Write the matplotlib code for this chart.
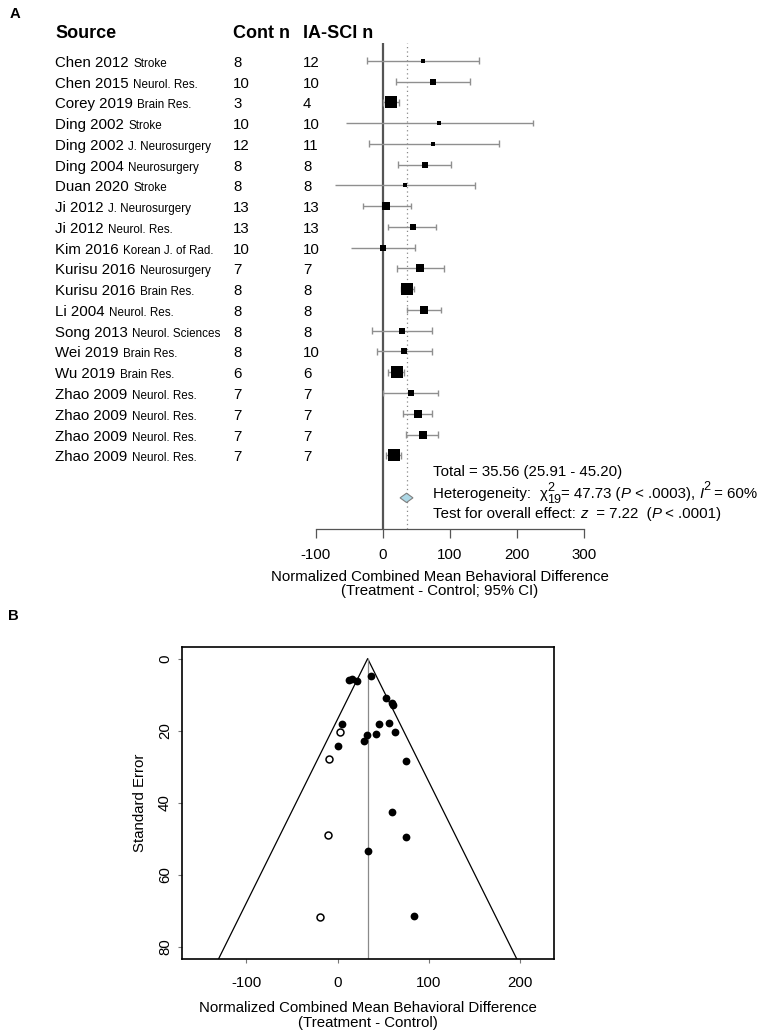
import numpy as np
import matplotlib.pyplot as plt
import matplotlib.transforms as mtransforms
from matplotlib.patches import Polygon

plt.rcParams['font.family'] = ['Liberation Sans', 'DejaVu Sans']
plt.rcParams['axes.unicode_minus'] = False

## Data
studies = ["Chen 2012", "Chen 2015", "Corey 2019", "Ding 2002", "Ding 2002",
           "Ding 2004", "Duan 2020", "Ji 2012", "Ji 2012", "Kim 2016",
           "Kurisu 2016", "Kurisu 2016", "Li 2004", "Song 2013", "Wei 2019",
           "Wu 2019", "Zhao 2009", "Zhao 2009", "Zhao 2009", "Zhao 2009"]
journals = ["Stroke", "Neurol. Res.", "Brain Res.", "Stroke", "J. Neurosurgery",
            "Neurosurgery", "Stroke", "J. Neurosurgery", "Neurol. Res.", "Korean J. of Rad.",
            "Neurosurgery", "Brain Res.", "Neurol. Res.", "Neurol. Sciences", "Brain Res.",
            "Brain Res.", "Neurol. Res.", "Neurol. Res.", "Neurol. Res.", "Neurol. Res."]
cont_n = [8, 10, 3, 10, 12, 8, 8, 13, 13, 10, 7, 8, 8, 8, 8, 6, 7, 7, 7, 7]
iasci_n = [12, 10, 4, 10, 11, 8, 8, 13, 13, 10, 7, 8, 8, 8, 10, 6, 7, 7, 7, 7]

est = [60.1, 74.6, 12.4, 84.0, 75.0, 62.7, 33.8, 4.9, 45.2, 0.0,
       56.2, 36.3, 61.2, 29.4, 32.3, 20.9, 41.8, 52.7, 59.7, 16.4]
ci_lo = [-23.0, 19.4, 1.0, -54.8, -21.0, 22.4, -71.2, -29.4, 7.9, -47.3,
         20.9, 26.9, 36.8, -16.0, -9.0, 8.4, 1.0, 30.8, 34.3, 4.9]
ci_hi = [144.2, 130.3, 24.3, 225.0, 173.0, 102.0, 137.8, 41.8, 79.5, 48.2,
         91.0, 46.3, 87.0, 74.0, 74.0, 32.3, 82.5, 74.0, 83.0, 27.3]

total_est, total_lo, total_hi = 35.56, 25.91, 45.20

# trim-and-fill (funnel plot)
funnel_center = 33.0
imp_est = [-19.0, -10.2, -9.5, 2.9]
imp_se = [71.8, 49.0, 27.9, 20.4]

est = np.array(est)
ci_lo = np.array(ci_lo)
ci_hi = np.array(ci_hi)
se = (ci_hi - ci_lo) / 3.92

## Figure
W, H = 765, 1032
fig = plt.figure(figsize=(W / 100, H / 100), dpi=100)
renderer = fig.canvas.get_renderer()


def box(x0, y0, x1, y1):
    return [x0 / W, 1 - y1 / H, (x1 - x0) / W, (y1 - y0) / H]


def pieces(ax, x0, y0, parts):
    # parts: (text, fontsize, style, dy_px, advance)
    dx = 0.0
    for s, size, style, dy, adv in parts:
        tr = mtransforms.offset_copy(ax.transData, fig=fig, x=dx, y=dy, units='dots')
        t = ax.text(x0, y0, s, transform=tr, fontsize=size, fontstyle=style, va='baseline')
        if adv:
            dx += t.get_window_extent(renderer).width


FS = 10.8
SS = 9.0
grey_ci = '#8f8f8f'

# ---------------- A: forest plot ----------------
ax = fig.add_axes(box(315.7, 43.3, 583.7, 529))
ax.set_xlim(-100, 300)
ax.set_ylim(-2.55, 20.84)
for s in ['top', 'right', 'left']:
    ax.spines[s].set_visible(False)
ax.spines['bottom'].set_color('#555555')
ax.spines['bottom'].set_linewidth(0.9)
ax.set_yticks([])
ax.set_xticks([-100, 0, 100, 200, 300])
ax.tick_params(axis='x', length=6.5, width=0.9, color='#555555', pad=7, labelsize=FS)

rows = np.arange(len(studies), 0, -1)

ax.axvline(0, color='#555555', lw=1.6, zorder=1)
ax.axvline(total_est, color='#8a8a8a', lw=0.9, ls=(0, (1, 2.5)), zorder=1)

cap = 0.16
ax.hlines(rows, ci_lo, ci_hi, color=grey_ci, lw=1.0, zorder=2)
ax.vlines(ci_hi, rows - cap, rows + cap, color=grey_ci, lw=1.0, zorder=2)
left_cap = ci_lo > -40
ax.vlines(ci_lo[left_cap], rows[left_cap] - cap, rows[left_cap] + cap, color=grey_ci, lw=1.0, zorder=2)

side_px = 0.9 + 26.0 / np.sqrt(se)
for x, y, s_ in zip(est, rows, side_px):
    ax.plot(x, y, marker='s', ms=s_ * 0.72, color='black', mew=0, zorder=3)

yd = -1.05
hd = 0.225
ax.add_patch(Polygon([[total_lo, yd], [total_est, yd + hd], [total_hi, yd], [total_est, yd - hd]],
                     closed=True, facecolor='#add8e6', edgecolor='#7f7f7f', lw=0.8, zorder=3))

ytr = ax.get_yaxis_transform()
x_src, x_cont, x_ia = -0.9728, -0.3086, -0.0474
ax.text(x_src, 21.08, "Source", transform=ytr, fontsize=13, fontweight='bold', va='baseline')
ax.text(x_cont, 21.08, "Cont n", transform=ytr, fontsize=13, fontweight='bold', va='baseline')
ax.text(x_ia, 21.08, "IA-SCI n", transform=ytr, fontsize=13, fontweight='bold', va='baseline')

for y, name, jr, c, t in zip(rows, studies, journals, cont_n, iasci_n):
    tx = ax.text(x_src, y - 0.29, name, transform=ytr, fontsize=FS, va='baseline')
    ax.annotate(jr, xy=(1, 0), xycoords=tx, xytext=(3.3, 0), textcoords='offset points',
                fontsize=8.4, va='bottom')
    ax.text(x_cont, y - 0.29, str(c), transform=ytr, fontsize=FS, va='baseline')
    ax.text(x_ia, y - 0.29, str(t), transform=ytr, fontsize=FS, va='baseline')

x_stat = 75.5
ax.text(x_stat, 0.02, "Total = %.2f (%.2f - %.2f)" % (total_est, total_lo, total_hi),
        fontsize=FS, va='baseline')
pieces(ax, x_stat, -1.07, [
    ("Heterogeneity:  ", FS, 'normal', 0, True),
    ("\u03c7", FS, 'normal', 0, True),
    ("2", SS, 'normal', 7, False),
    ("19", SS, 'normal', -5, True),
    ("= 47.73 (", FS, 'normal', 0, True),
    ("P", FS, 'italic', 0, True),
    (" < .0003), ", FS, 'normal', 0, True),
    ("I", FS, 'italic', 0, True),
    ("2", SS, 'normal', 8, True),
    (" = 60%", FS, 'normal', 0, True),
])
pieces(ax, x_stat, -2.03, [
    ("Test for overall effect: ", FS, 'normal', 0, True),
    ("z", FS, 'italic', 0, True),
    ("  = 7.22  (", FS, 'normal', 0, True),
    ("P", FS, 'italic', 0, True),
    (" < .0001)", FS, 'normal', 0, True),
])

ax.text(0.464, -0.1132, "Normalized Combined Mean Behavioral Difference\n(Treatment - Control; 95% CI)",
        transform=ax.transAxes, fontsize=FS, ha='center', va='center', linespacing=1.05)

fig.text(10 / W, 1 - 18.3 / H, "A", fontsize=10.7, fontweight='bold', va='baseline')

# ---------------- B: funnel plot ----------------
ax2 = fig.add_axes(box(181.7, 646.7, 553.7, 959.3))
ax2.set_xlim(-170.6, 236.7)
ax2.set_ylim(83.4, -3.3)
for s in ax2.spines.values():
    s.set_linewidth(1.2)
    s.set_color('black')

se_max = ax2.get_ylim()[0]
ax2.plot([funnel_center - 1.96 * se_max, funnel_center, funnel_center + 1.96 * se_max],
         [se_max, 0, se_max], color='black', lw=0.9, zorder=1)
ax2.plot([funnel_center, funnel_center], [0, se_max], color='#8a8a8a', lw=0.9, zorder=1)

ax2.plot(est, se, 'o', color='black', ms=5.6, mew=0, zorder=3)
ax2.plot(imp_est, imp_se, 'o', mfc='white', mec='black', ms=5.0, mew=1.1, zorder=3)

ax2.set_xticks([-100, 0, 100, 200])
ax2.set_yticks([0, 20, 40, 60, 80])
ax2.tick_params(axis='both', length=3, width=0.8, color='#777777', labelsize=FS)
ax2.tick_params(axis='x', pad=9)
ax2.tick_params(axis='y', pad=4)
for lab in ax2.get_yticklabels():
    lab.set_rotation(90)
    lab.set_va('center')

ax2.set_ylabel("Standard Error", fontsize=FS, labelpad=8)
ax2.set_xlabel("Normalized Combined Mean Behavioral Difference\n(Treatment - Control)",
               fontsize=FS, labelpad=8, linespacing=1.12)

fig.text(8.3 / W, 1 - 620 / H, "B", fontsize=10.7, fontweight='bold', va='baseline')

fig.savefig("out.png", dpi=100)
plt.close()
